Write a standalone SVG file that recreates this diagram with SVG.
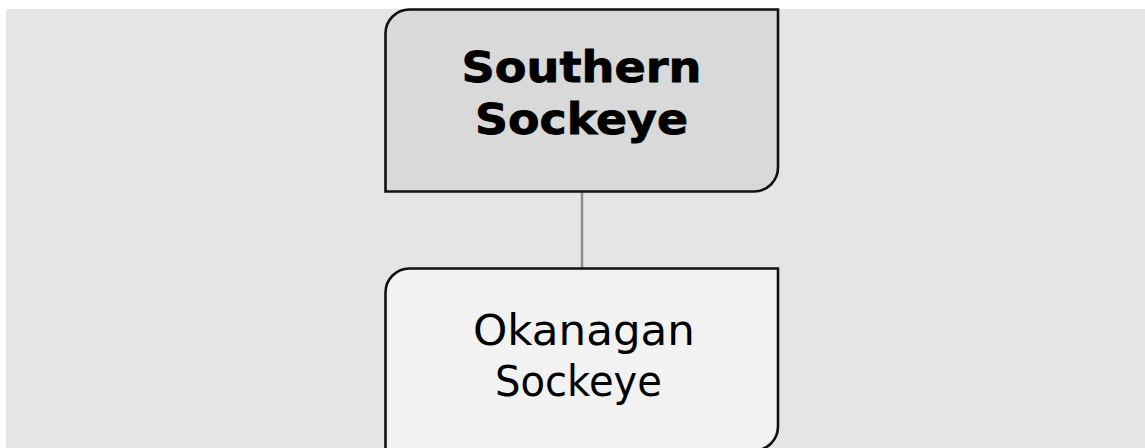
<svg xmlns="http://www.w3.org/2000/svg" width="1145" height="448" viewBox="0 0 1145 448">
  <style>
    .box { stroke: #111; stroke-width: 2.6; }
    .parent { fill: #d9d9d9; }
    .child { fill: #f2f2f2; }
    .conn { stroke: #8c8c8c; stroke-width: 2.5; fill: none; }
    .lbl { font-family: "DejaVu Sans", "Open Sans", sans-serif; font-size: 42px; fill: #000; text-anchor: middle; }
    .bold { font-weight: bold; stroke: #000; stroke-width: 0.8; }
  </style>
  <rect x="6" y="9" width="1139" height="439" fill="#e5e5e5"/>
  <g id="connectors">
    <line class="conn" x1="582" y1="191.5" x2="582" y2="268.5"/>
  </g>
  <g id="node-southern-sockeye">
    <path class="box parent" d="M385.5,33.5 A24,24 0 0 1 409.5,9.5 H778 V167.5 A24,24 0 0 1 754,191.5 H385.5 Z"/>
    <text class="lbl bold" x="581.5" y="82" textLength="240" lengthAdjust="spacingAndGlyphs">Southern</text>
    <text class="lbl bold" x="581.5" y="134" textLength="213" lengthAdjust="spacingAndGlyphs">Sockeye</text>
  </g>
  <g id="node-okanagan-sockeye">
    <path class="box child" d="M385.5,292.5 A24,24 0 0 1 409.5,268.5 H778 V426.5 A24,24 0 0 1 754,450.5 H385.5 Z"/>
    <text class="lbl" x="584" y="345" textLength="222" lengthAdjust="spacingAndGlyphs">Okanagan</text>
    <text class="lbl" x="578.5" y="396" textLength="167" lengthAdjust="spacingAndGlyphs">Sockeye</text>
  </g>
</svg>
